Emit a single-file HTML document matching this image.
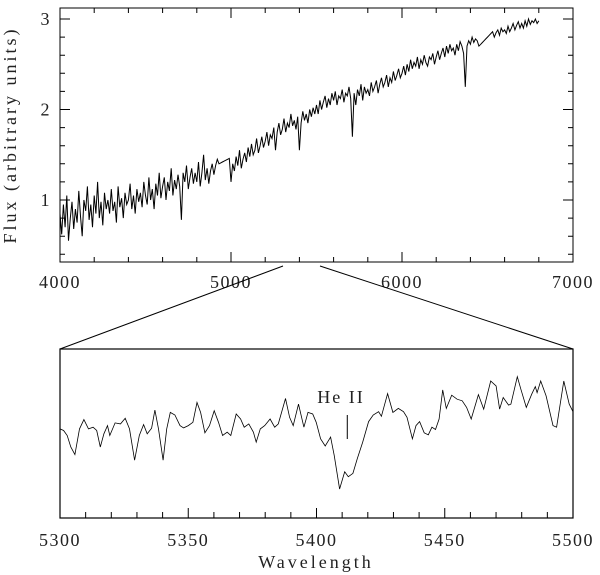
<!DOCTYPE html>
<html><head><meta charset="utf-8"><style>
html,body{margin:0;padding:0;background:#fff;}
svg{display:block;font-family:"Liberation Serif",serif;}
</style></head><body>
<svg id="chart" width="600" height="575" viewBox="0 0 600 575">
<g id="topPanel"></g>
<g id="botPanel"></g>
<line x1="283" y1="266" x2="60" y2="349" stroke="#000" stroke-width="1"/>
<line x1="320" y1="266" x2="573" y2="349" stroke="#000" stroke-width="1"/>
<text x="16" y="135" font-size="18" letter-spacing="3" text-anchor="middle" transform="rotate(-90 16 135)" fill="#222">Flux (arbitrary units)</text>
<text x="316" y="568" font-size="18" letter-spacing="3" text-anchor="middle" fill="#222">Wavelength</text>
<text x="341" y="403" font-size="18" letter-spacing="2" text-anchor="middle" fill="#222">He II</text>
</svg>
<script>
const topFlux = [
0.85,0.62,0.95,0.70,1.05,0.55,0.80,0.98,0.68,0.90,
0.75,1.10,0.82,0.60,1.00,0.88,1.15,0.78,0.95,0.70,
1.05,0.85,1.20,0.80,0.98,0.72,1.08,0.90,1.00,0.85,
1.12,0.88,0.98,0.75,1.15,0.92,1.02,0.80,1.08,0.95,
1.00,1.18,0.90,1.05,0.85,1.12,0.98,1.08,0.92,1.20,
1.05,0.95,1.25,1.00,1.12,0.90,1.18,1.05,1.30,1.02,
1.15,1.25,1.00,1.20,1.10,1.35,1.05,1.22,1.12,1.28,
1.15,0.78,1.30,1.20,1.38,1.12,1.25,1.35,1.18,1.30,
1.20,1.42,1.15,1.30,1.50,1.22,1.35,1.18,1.32,1.40,
1.28,1.38,1.45,1.40,1.41,1.42,1.43,1.44,1.45,1.46,
1.20,1.40,1.32,1.48,1.38,1.55,1.35,1.45,1.52,1.42,
1.58,1.48,1.62,1.50,1.55,1.68,1.52,1.60,1.70,1.58,
1.65,1.75,1.60,1.72,1.68,1.80,1.55,1.75,1.85,1.72,
1.78,1.90,1.75,1.85,1.80,1.95,1.82,1.88,1.78,1.92,
1.55,1.85,1.98,1.88,1.95,1.85,2.00,1.92,2.02,1.95,
2.05,1.95,2.10,2.00,2.08,2.15,2.02,2.12,2.05,2.18,
2.10,2.20,2.05,2.15,2.12,2.22,2.08,2.18,2.15,2.25,
2.12,1.70,2.18,2.05,2.22,2.15,2.28,2.10,2.25,2.18,
2.22,2.15,2.30,2.20,2.25,2.32,2.18,2.28,2.35,2.25,
2.30,2.38,2.25,2.35,2.30,2.42,2.32,2.38,2.45,2.35,
2.40,2.48,2.38,2.50,2.42,2.55,2.45,2.52,2.48,2.58,
2.45,2.55,2.50,2.60,2.52,2.48,2.58,2.55,2.62,2.50,
2.58,2.65,2.55,2.62,2.68,2.58,2.70,2.62,2.72,2.65,
2.68,2.60,2.72,2.65,2.75,2.70,2.62,2.25,2.70,2.76,
2.72,2.80,2.74,2.78,2.76,2.70,2.72,2.74,2.76,2.78,
2.80,2.82,2.84,2.86,2.80,2.85,2.88,2.82,2.90,2.86,
2.88,2.84,2.92,2.86,2.90,2.95,2.88,2.93,2.97,2.90,
2.95,2.90,2.98,2.92,3.00,2.94,2.98,2.96,3.00,2.95,2.98];
const topStart = 4000, topStep = 10;
const topXTicks = [4000,5000,6000,7000];
const topYTicks = [1,2,3];
const botWave = [5300,5301.4,5302.8,5304.2,5305.8,5307.6,5309.3,5311.1,5312.9,5314.3,5315.7,5317.1,5318.5,5319.4,5321.5,5323.6,5325.4,5327.1,5329.1,5330.9,5332.6,5334.0,5335.7,5337.0,5338.4,5340.2,5341.6,5343.0,5344.8,5346.8,5348.2,5350.0,5351.8,5353.4,5354.8,5356.5,5358.3,5360.1,5361.8,5363.4,5365.2,5366.6,5368.7,5370.4,5371.8,5373.6,5375.4,5376.5,5378.1,5379.8,5381.9,5383.7,5385.1,5387.9,5389.5,5390.9,5393.0,5395.1,5396.7,5398.5,5399.9,5401.6,5403.4,5405.5,5406.9,5409.0,5411.0,5412.4,5414.2,5415.9,5418.0,5420.3,5422.1,5424.2,5425.3,5427.7,5429.8,5431.9,5433.9,5435.3,5437.4,5438.8,5440.2,5442.0,5443.6,5445.0,5446.4,5447.8,5449.2,5450.6,5452.7,5454.8,5456.8,5458.5,5460.3,5463.1,5465.2,5467.9,5470.0,5471.4,5472.8,5474.9,5475.8,5478.3,5479.7,5481.8,5483.9,5485.3,5486.0,5487.4,5489.5,5492.2,5493.6,5496.4,5498.5,5500];
const botFlux = [270,265,250,215,192,270,298,270,275,265,215,255,280,250,288,285,302,270,175,250,283,255,272,327,270,175,270,320,312,280,273,280,290,350,320,258,280,325,290,250,260,250,315,300,275,285,260,230,270,280,300,275,285,362,305,280,345,275,320,315,290,240,218,245,190,88,140,125,135,180,230,292,312,322,308,377,320,332,322,305,240,280,292,258,252,275,268,300,388,332,372,360,355,335,300,374,330,415,400,330,365,342,345,428,390,335,375,398,380,415,370,280,275,415,345,322];
const botXTicks = [5300,5350,5400,5450,5500];
const heIIWave = 5412;

const NS='http://www.w3.org/2000/svg';
function mk(tag,attrs,parent){const e=document.createElementNS(NS,tag);for(const k in attrs)e.setAttribute(k,attrs[k]);parent.appendChild(e);return e;}
const TL=60,TR=573,TT=8,TB=262;
const tx=w=>TL+(w-4000)/3000*(TR-TL);
const ty=v=>200-(v-1)*90.5;
const topG=document.getElementById('topPanel');
const frame=mk('rect',{x:TL,y:TT,width:TR-TL,height:TB-TT,fill:'none',stroke:'#000','stroke-width':1},topG);


let d='';
for(let w=4000;w<=7000;w+=200){const X=tx(w),L=(w%1000===0)?10:5;d+=`M${X},${TB}v${-L}M${X},${TT}v${L}`;}
for(let k=2;k<=15;k++){const v=k*0.2;const Y=ty(v),L=(k%5===0)?10:5;d+=`M${TL},${Y}h${L}M${TR},${Y}h${-L}`;}
const tk=mk('path',{d:d,stroke:'#000','stroke-width':1,fill:'none'},topG);


topXTicks.forEach(w=>{const t=mk('text',{x:tx(w),y:288,'font-size':18,'letter-spacing':1.5,'text-anchor':'middle',fill:'#222'},topG);t.textContent=w;

});
topYTicks.forEach(v=>{const t=mk('text',{x:45,y:ty(v)+6,'font-size':18,'text-anchor':'middle',fill:'#222'},topG);t.textContent=v;

});
const p1=mk('path',{d:topFlux.map((v,i)=>(i?'L':'M')+tx(topStart+i*topStep).toFixed(1)+','+ty(v).toFixed(1)).join(''),fill:'none',stroke:'#000','stroke-width':1},topG);


const BL=60,BR=573,BT=349,BB=518;
const bx=w=>BL+(w-5300)/200*(BR-BL);
const by=v=>BB-v/512*(BB-BT);
const botG=document.getElementById('botPanel');
const f2=mk('rect',{x:BL,y:BT,width:BR-BL,height:BB-BT,fill:'none',stroke:'#000','stroke-width':1.2},botG);


let d2='';
for(let w=5300;w<=5500;w+=10){const L=(w%50===0)?10:6;d2+=`M${bx(w)},${BB}v${-L}`;}
const tk2=mk('path',{d:d2,stroke:'#000','stroke-width':1,fill:'none'},botG);


botXTicks.forEach(w=>{const t=mk('text',{x:bx(w),y:546,'font-size':18,'letter-spacing':1.5,'text-anchor':'middle',fill:'#222'},botG);t.textContent=w;

});
const p2=mk('path',{d:botWave.map((w,i)=>(i?'L':'M')+bx(w).toFixed(1)+','+by(botFlux[i]).toFixed(1)).join(''),fill:'none',stroke:'#000','stroke-width':0.8},botG);


const m=mk('line',{x1:bx(heIIWave),x2:bx(heIIWave),y1:415,y2:439,stroke:'#000','stroke-width':1},botG);


</script>
</body></html>
